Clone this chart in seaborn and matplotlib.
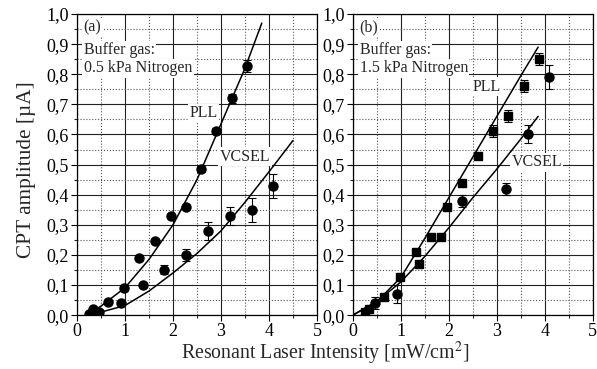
import numpy as np
import matplotlib
matplotlib.use("Agg")
import matplotlib.pyplot as plt
from matplotlib.ticker import MultipleLocator, FuncFormatter
import seaborn as sns

sns.set_theme(style="ticks")
plt.rcParams["font.family"] = "serif"
plt.rcParams["font.serif"] = ["Liberation Serif", "Times New Roman", "DejaVu Serif"]
plt.rcParams["mathtext.fontset"] = "stix"

# Panel (a): 0.5 kPa Nitrogen, all markers are circles
a_pll_x = [0.25, 0.33, 0.46, 0.65, 0.97, 1.30, 1.62, 1.95, 2.27, 2.59, 2.90, 3.23, 3.55]
a_pll_y = [0.005, 0.02, 0.01, 0.045, 0.09, 0.19, 0.247, 0.33, 0.36, 0.485, 0.61, 0.72, 0.828]
a_pll_err = [0, 0, 0, 0, 0, 0, 0, 0, 0, 0.01, 0.01, 0.015, 0.02]
a_vcsel_x = [0.92, 1.37, 1.82, 2.27, 2.73, 3.19, 3.64, 4.09]
a_vcsel_y = [0.04, 0.10, 0.15, 0.20, 0.28, 0.33, 0.35, 0.43]
a_vcsel_err = [0, 0, 0.015, 0.02, 0.03, 0.03, 0.04, 0.04]

# fitted curves
a_pll_fit_x = [0.3, 0.5, 1.0, 1.5, 2.0, 2.5, 3.0, 3.5, 3.85]
a_pll_fit_y = [0.01, 0.03, 0.091, 0.185, 0.30, 0.45, 0.635, 0.82, 0.97]
a_vcsel_fit_x = [0.4, 0.5, 1.0, 1.5, 2.0, 2.5, 3.0, 3.5, 4.0, 4.5]
a_vcsel_fit_y = [0.005, 0.01, 0.032, 0.08, 0.14, 0.205, 0.28, 0.375, 0.476, 0.58]

# Panel (b): 1.5 kPa Nitrogen
b_sq_x = [0.25, 0.33, 0.65, 0.98, 1.31, 1.375, 1.625, 1.83, 1.96, 2.28, 2.60, 2.92, 3.24, 3.56, 3.88]
b_sq_y = [0.01, 0.02, 0.06, 0.125, 0.21, 0.17, 0.26, 0.26, 0.36, 0.44, 0.53, 0.61, 0.66, 0.76, 0.85]
b_sq_err = [0, 0, 0, 0, 0, 0, 0, 0, 0, 0, 0, 0.02, 0.02, 0.02, 0.02]
b_ci_x = [0.47, 0.91, 2.28, 3.19, 3.65, 4.09]
b_ci_y = [0.04, 0.07, 0.38, 0.42, 0.60, 0.79]
b_ci_err = [0.02, 0.03, 0.02, 0.02, 0.03, 0.04]

b_pll_fit_x = [0.0, 0.5, 1.0, 1.5, 2.0, 2.5, 3.0, 3.5, 3.86]
b_pll_fit_y = [0.0, 0.045, 0.125, 0.255, 0.39, 0.525, 0.66, 0.795, 0.89]
b_vcsel_fit_x = [0.0, 0.5, 1.0, 1.5, 2.0, 2.5, 3.0, 3.5, 3.86]
b_vcsel_fit_y = [0.0, 0.045, 0.11, 0.195, 0.29, 0.39, 0.485, 0.585, 0.66]

fig = plt.figure(figsize=(5.97, 3.69), dpi=100)
ax_a = fig.add_axes([0.129, 0.146, 0.402, 0.816])
ax_b = fig.add_axes([0.591, 0.146, 0.402, 0.816])

comma = FuncFormatter(lambda v, pos: f"{v:.1f}".replace(".", ","))
box = dict(facecolor="white", edgecolor="none", pad=1.0)
TXT = 11.5


def style_axes(ax):
    ax.set_xlim(0, 5)
    ax.set_ylim(0, 1.0)
    ax.xaxis.set_major_locator(MultipleLocator(1))
    ax.xaxis.set_minor_locator(MultipleLocator(0.5))
    ax.yaxis.set_major_locator(MultipleLocator(0.1))
    ax.yaxis.set_minor_locator(MultipleLocator(0.05))
    ax.yaxis.set_major_formatter(comma)
    ax.grid(which="major", color="#222222", linestyle="-", linewidth=0.8)
    ax.grid(which="minor", color="#555555", linestyle=":", linewidth=0.8)
    ax.set_axisbelow(True)
    ax.tick_params(which="major", direction="out", length=4, width=0.8,
                   labelsize=13, colors="black", pad=2)
    ax.tick_params(which="minor", direction="out", length=2, width=0.8)
    for s in ax.spines.values():
        s.set_color("black")
        s.set_linewidth(0.9)
    ax.set_xlabel("")
    ax.set_ylabel("")


def draw_points(ax, x, y, err, marker, size):
    ax.errorbar(x, y, yerr=err, fmt=marker, color="black", markersize=size,
                ecolor="black", elinewidth=0.8, capsize=3, capthick=0.8, zorder=4)


def draw_fit(ax, x, y):
    sns.lineplot(x=x, y=y, ax=ax, color="black", linewidth=1.1,
                 sort=False, estimator=None, zorder=3)


def panel_text(ax, tag, gas):
    ax.text(0.14, 0.955, tag, fontsize=TXT, va="center", ha="left", bbox=box, zorder=5)
    ax.text(0.14, 0.88, "Buffer gas:", fontsize=TXT, va="center", ha="left", bbox=box, zorder=5)
    ax.text(0.14, 0.82, gas, fontsize=TXT, va="center", ha="left", bbox=box, zorder=5)


# panel (a)
draw_fit(ax_a, a_pll_fit_x, a_pll_fit_y)
draw_fit(ax_a, a_vcsel_fit_x, a_vcsel_fit_y)
draw_points(ax_a, a_pll_x, a_pll_y, a_pll_err, "o", 6.5)
draw_points(ax_a, a_vcsel_x, a_vcsel_y, a_vcsel_err, "o", 6.5)
style_axes(ax_a)
panel_text(ax_a, "(a)", "0.5 kPa Nitrogen")
ax_a.text(2.63, 0.671, "PLL", fontsize=TXT, va="center", ha="center", bbox=box, zorder=5)
ax_a.text(3.50, 0.526, "VCSEL", fontsize=TXT, va="center", ha="center", bbox=box, zorder=5)

# panel (b)
draw_fit(ax_b, b_pll_fit_x, b_pll_fit_y)
draw_fit(ax_b, b_vcsel_fit_x, b_vcsel_fit_y)
draw_points(ax_b, b_sq_x, b_sq_y, b_sq_err, "s", 6)
draw_points(ax_b, b_ci_x, b_ci_y, b_ci_err, "o", 6.5)
style_axes(ax_b)
panel_text(ax_b, "(b)", "1.5 kPa Nitrogen")
ax_b.text(2.78, 0.758, "PLL", fontsize=TXT, va="center", ha="center", bbox=box, zorder=5)
ax_b.text(3.83, 0.507, "VCSEL", fontsize=TXT, va="center", ha="center", bbox=box, zorder=5)

fig.text(0.045, 0.539, "CPT amplitude [µA]", rotation=90, fontsize=15.3,
         ha="center", va="center")
fig.text(0.544, 0.026, "Resonant Laser Intensity [mW/cm$^2$]", fontsize=14.3,
         ha="center", va="baseline")

fig.savefig("out.png", dpi=100)
